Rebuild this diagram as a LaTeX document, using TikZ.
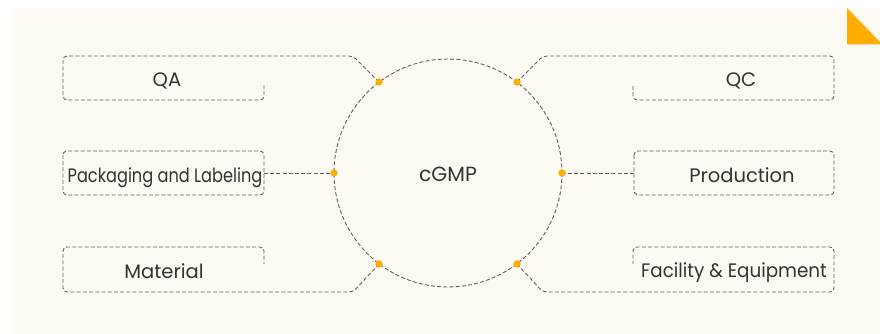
\documentclass[tikz,border=0pt]{standalone}
\usepackage{fontspec}
\setmainfont{Poppins}
\begin{document}
\begin{tikzpicture}[x=1pt,y=-1pt,
  dl/.style={draw=black!62, line width=0.9pt, dash pattern=on 4pt off 2.2pt},
  frame/.style={dl, rounded corners=4pt},
  lab/.style={text=black!80, font=\fontsize{19.5}{21}\selectfont, inner sep=0pt, anchor=base},
  dot/.style={circle, fill=orange1, inner sep=0pt, minimum size=7pt}]
\definecolor{orange1}{HTML}{FFAD00}
\definecolor{bg}{HTML}{FDFAF3}
\useasboundingbox (0,0) rectangle (880,334);
\fill[bg] (12,8) rectangle (880,334);
\fill[orange1] (847,8) -- (880,42) -- (880,44.5) -- (847,44.5) -- cycle;
% circle
\coordinate (c) at (448,173);
\draw[dl] (c) circle[radius=114];
\node[lab, font=\fontsize{20.5}{22}\selectfont] (cgmp) at (448,181.5) {cGMP};
% dots
\node[dot] (dqa) at (379,82) {};
\node[dot] (dqc) at (517,82) {};
\node[dot] (dpk) at (334,173) {};
\node[dot] (dpr) at (562,173) {};
\node[dot] (dma) at (379,264) {};
\node[dot] (dfa) at (517,264) {};
% QA
\coordinate (qa1) at (353,56);
\coordinate (qa2) at (264,84);
\draw[frame] (dqa.center) -- (qa1) -- (63,56) -- (63,100) -- (264,100) -- (qa2);
\node[lab] (qa) at (167,87) {QA};
% QC
\coordinate (qc1) at (543,56);
\coordinate (qc2) at (633,84);
\draw[frame] (dqc.center) -- (qc1) -- (834,56) -- (834,100) -- (633,100) -- (qc2);
\node[lab] (qc) at (741,86.5) {QC};
% Packaging
\draw[frame] (63,151) rectangle (264,195);
\coordinate (pk) at (264,173);
\draw[dl] (pk) -- (dpk.center);
\node[lab, xscale=0.83] (pkl) at (165,182) {Packaging and Labeling};
% Production
\draw[frame] (634,151) rectangle (834,195);
\coordinate (pr) at (634,173);
\draw[dl] (pr) -- (dpr.center);
\node[lab] (prl) at (742,182) {Production};
% Material
\coordinate (ma1) at (353,292);
\coordinate (ma2) at (264,264);
\draw[frame] (dma.center) -- (ma1) -- (63,292) -- (63,247) -- (264,247) -- (ma2);
\node[lab] (mal) at (164,278.5) {Material};
% Facility
\coordinate (fa1) at (543,292);
\coordinate (fa2) at (633,264);
\draw[frame] (dfa.center) -- (fa1) -- (834,292) -- (834,247) -- (633,247) -- (fa2);
\node[lab, xscale=0.94] (fal) at (734,277.5) {Facility \& Equipment};
% redraw dots on top
\fill[orange1] (dqa) circle[radius=3.5] (dqc) circle[radius=3.5] (dpk) circle[radius=3.5]
  (dpr) circle[radius=3.5] (dma) circle[radius=3.5] (dfa) circle[radius=3.5];
\end{tikzpicture}
\end{document}
